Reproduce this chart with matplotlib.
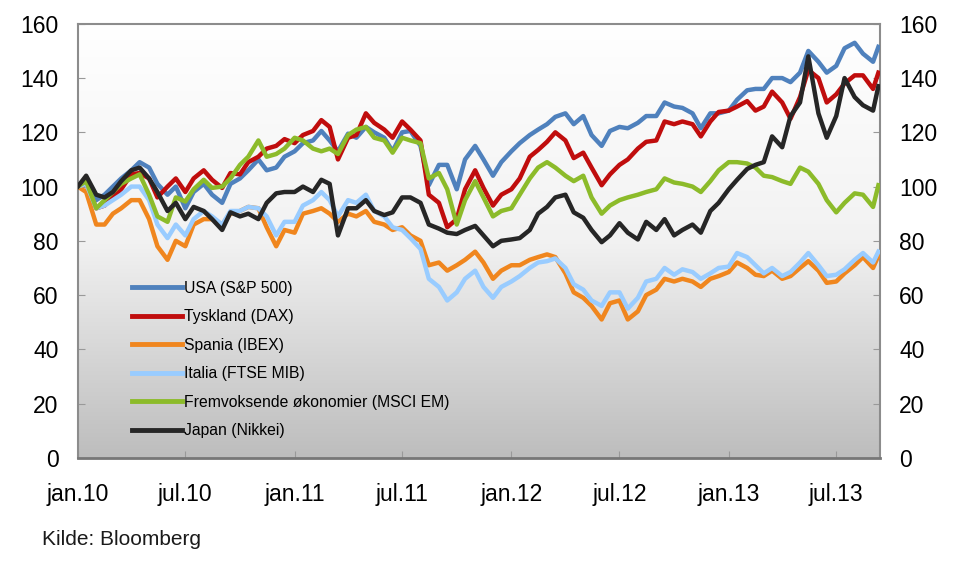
import numpy as np
import pandas as pd
import matplotlib
matplotlib.use("Agg")
import matplotlib.pyplot as plt
from matplotlib.colors import LinearSegmentedColormap

# half-monthly observations, indexed to 100 at start of 2010
dates = list(pd.date_range("2010-01-01", "2013-09-01", freq="SMS")) + [pd.Timestamp("2013-09-10")]

usa = [100, 102, 95, 97, 100, 103, 106, 109, 107, 101, 97, 100, 92, 98, 101, 97, 94, 101, 103, 106, 110, 106, 107, 111,
       113, 116, 117, 120.5, 117, 113, 119.5, 118, 122, 120, 118, 113, 120, 120.5, 115, 100.5, 108, 108, 99, 110, 115, 110, 104, 109,
       113, 116, 119, 121, 123, 125.7, 127, 123, 126, 119, 115, 120.5, 122, 121.5, 123.5, 126, 126, 131, 129.5, 129, 127, 121.5, 127, 127,
       128, 132, 135.5, 136, 136, 140, 140, 138.5, 142, 150, 146, 142, 144.5, 151, 153, 149, 146, 151.5]
tyskland = [100, 101, 92, 93, 96, 99, 104.5, 105, 103, 96, 100, 103, 98, 103, 106, 102.5, 99.5, 105, 104.5, 109, 111, 114, 115, 117.5,
            116, 119, 120.5, 124.5, 122, 110, 118, 119, 127, 123.5, 121, 118, 124, 121, 117, 97, 94, 85, 88, 99, 106, 99.5, 93, 97,
            99, 103, 111, 113.5, 116.5, 120, 117, 110.5, 112.5, 107, 100.5, 104.5, 108, 110, 114, 116.5, 117, 124, 123, 124, 123, 118.5, 124, 127.5,
            128, 129.5, 131.5, 128, 129.5, 135, 131, 125, 133, 143, 140, 131, 134, 138, 141, 141, 136, 142]
spania = [100, 98, 86, 86, 90, 92, 95, 95, 88, 78, 73, 80, 78, 86, 88, 88, 86, 90, 91, 92.5, 92, 85, 78, 84,
          83, 90, 91, 92, 90, 87, 90, 89, 91, 87, 86, 84, 85, 82, 80, 71, 72, 69, 71, 73, 76, 72, 66, 69,
          71, 71, 73, 74, 75, 74, 68, 61, 59, 56, 51, 57, 58, 51, 54, 60, 62, 66, 65, 66, 65, 63, 66, 67,
          68.5, 72, 70, 67.5, 67, 69, 66, 67, 70, 72.5, 69, 64.5, 65, 68, 71, 74, 70, 74.5]
italia = [100, 101, 92, 93, 95, 97, 100, 100, 95, 86, 81, 86, 82, 88, 91, 89, 86, 91, 91, 92.5, 92, 89, 82, 87,
          87, 93, 95, 98, 95, 89, 95, 94, 97, 91, 89, 85, 84, 81, 77, 66, 63, 58, 61, 66, 69, 63, 59, 63,
          65, 67, 70, 72, 72.5, 73.5, 70, 64, 62, 58, 56, 61, 61, 55, 59, 65, 66, 70, 67.5, 69.5, 68.5, 66, 68, 70,
          70.5, 75.5, 74, 71, 68, 70, 67, 68.5, 72, 75.5, 71, 67, 67.5, 69.5, 73, 75.5, 72, 76]
em = [100, 102, 92, 95, 98, 101, 103, 104.5, 97, 89, 87, 96, 94.5, 99, 102.5, 99.5, 100, 103, 108, 111, 117, 111, 112, 114,
      118, 117, 114, 113, 114, 112, 119, 121, 122, 118, 117, 112.5, 118, 117, 116, 103, 105, 99, 86, 95, 102, 96, 89, 91,
      92, 97, 103, 107, 109, 107, 104, 102, 104, 96, 90, 93, 95, 96, 97, 98, 99, 103, 101.5, 101, 100, 98, 102, 106,
      109, 109, 108.5, 107, 104, 103.5, 102, 101, 107, 105.5, 101, 95, 90.5, 94, 97.5, 97, 92.5, 100.5]
japan = [100, 104, 97, 96, 98, 102, 106, 107, 103, 98, 91, 94, 88, 92.5, 91, 88, 84, 90.5, 89, 90, 88, 94, 97.5, 98,
         98, 100, 98, 102.5, 101, 82, 92, 92, 95, 91, 89.5, 90.5, 96, 96, 94, 86, 84.5, 83, 82.5, 84, 85.5, 82, 78, 80,
         80.5, 81, 84, 90, 92.5, 96, 97, 90.5, 88.5, 84, 79.5, 82, 86.5, 83, 80.5, 87, 84, 88, 82, 84, 86, 83, 91, 94,
         99, 102.5, 106.5, 108, 109, 118.5, 114.5, 126, 131, 148, 127, 118, 126, 140, 133, 130, 128, 137]

labels = ["USA (S&P 500)", "Tyskland (DAX)", "Spania (IBEX)", "Italia (FTSE MIB)",
          "Fremvoksende økonomier (MSCI EM)", "Japan (Nikkei)"]
colors = ["#4f81bd", "#c00d0d", "#f0861e", "#99ccff", "#8cbb2a", "#262626"]

tick_dates = pd.date_range("2010-01-01", "2013-07-01", freq="6MS")
tick_labels = ["jan.10", "jul.10", "jan.11", "jul.11", "jan.12", "jul.12", "jan.13", "jul.13"]

plt.rcParams["font.family"] = ["Liberation Sans", "DejaVu Sans"]

fig = plt.figure(figsize=(9.73, 5.81), dpi=100)
ax = fig.add_axes([0.080, 0.212, 0.824, 0.747])

# grey gradient background, white at the top
cmap = LinearSegmentedColormap.from_list("bg", ["#ffffff", "#f2f2f2", "#bdbdbd"])
grad = np.linspace(0, 1, 256).reshape(-1, 1)
ax.imshow(grad, cmap=cmap, extent=[0, 1, 0, 1], transform=ax.transAxes,
          aspect="auto", zorder=0)

for series, lab, col in zip([usa, tyskland, spania, italia, em, japan], labels, colors):
    ax.plot(dates, series, color=col, lw=3.2, label=lab, zorder=3, solid_joinstyle="round")

ax.set_xlim(pd.Timestamp("2010-01-01"), pd.Timestamp("2013-09-12"))
ax.set_ylim(0, 160)
ax.set_yticks(range(0, 161, 20))
ax.set_xticks(tick_dates)
ax.set_xticklabels(tick_labels)

ax.tick_params(axis="y", direction="in", length=5, color="#999999", labelsize=16.5,
               left=True, right=True, labelleft=True, labelright=True, pad=14)
ax.tick_params(axis="x", direction="in", length=5, color="#999999", labelsize=16.5, pad=18)

for side in ["top", "left", "right"]:
    ax.spines[side].set_color("#8c8c8c")
    ax.spines[side].set_linewidth(1.5)
ax.spines["bottom"].set_color("#777777")
ax.spines["bottom"].set_linewidth(2)

leg = ax.legend(loc="upper left", bbox_to_anchor=(0.05, 0.44), frameon=False,
                fontsize=11.3, handlelength=3.2, handletextpad=0.12, labelspacing=0.86)
for line in leg.get_lines():
    line.set_linewidth(3.5)

fig.text(0.043, 0.062, "Kilde: Bloomberg", fontsize=15, color="#1a1a1a")

fig.savefig("out.png", dpi=100)
